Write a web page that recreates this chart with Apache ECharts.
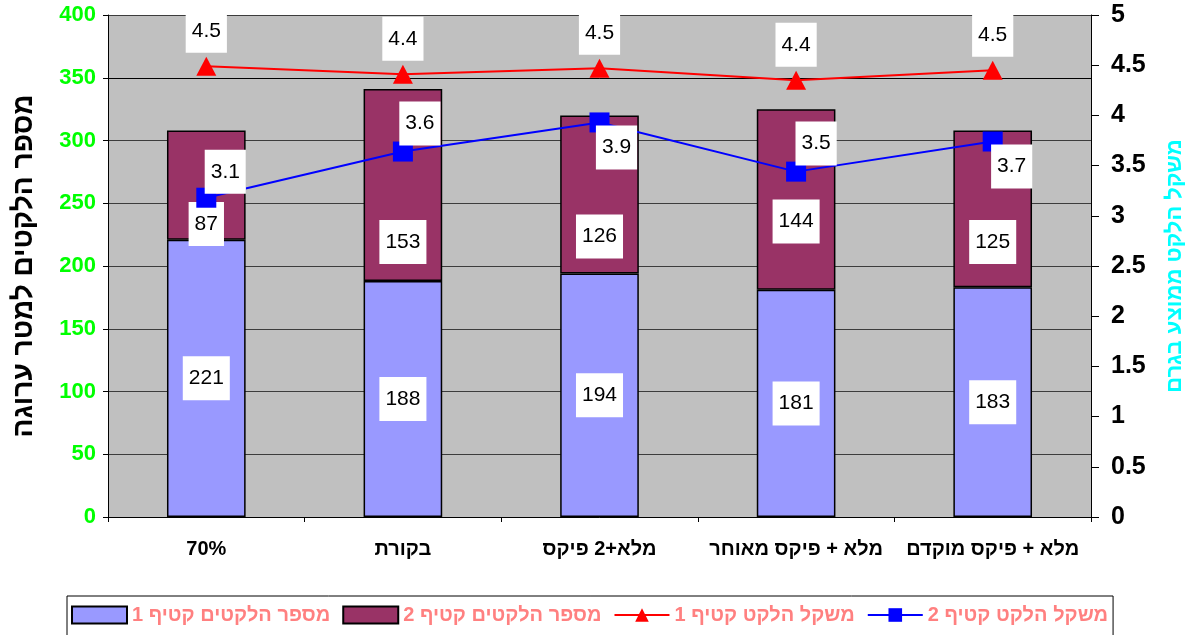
<!DOCTYPE html>
<html>
<head>
<meta charset="utf-8">
<script src="https://cdn.jsdelivr.net/npm/echarts@6/dist/echarts.min.js"></script>
<style>
html,body{margin:0;padding:0;background:#fff;}
#chart{width:1194px;height:635px;}
</style>
</head>
<body>
<div id="chart"></div>
<script>
var categories = ['70%', 'בקורת', 'מלא+2 פיקס', 'מלא + פיקס מאוחר', 'מלא + פיקס מוקדם'];
var seriesNames = ['מספר הלקטים קטיף 1', 'מספר הלקטים קטיף 2', 'משקל הלקט קטיף 1', 'משקל הלקט קטיף 2'];
var countHarvest1 = [221, 188, 194, 181, 183];
var countHarvest2 = [87, 153, 126, 144, 125];
var weightHarvest1 = [4.49, 4.41, 4.47, 4.35, 4.45];
var weightHarvest1Labels = ['4.5', '4.4', '4.5', '4.4', '4.5'];
var weightHarvest2 = [3.18, 3.64, 3.93, 3.44, 3.74];
var weightHarvest2Labels = ['3.1', '3.6', '3.9', '3.5', '3.7'];
var leftAxisTitle = 'מספר הלקטים למטר ערוגה';
var rightAxisTitle = 'משקל הלקט ממוצע בגרם';

var FONT = 'Arial, "Liberation Sans", "DejaVu Sans", sans-serif';
var boxLabel = {
  show: true, color: '#000', fontFamily: FONT, fontSize: 21,
  backgroundColor: '#fff', padding: [12, 6, 11, 6]
};

var c2Offsets = [[0, 39], [0, 57], [0, 42], [0, 22], [0, 33]];
var w2Offsets = [[19, -26], [17, -28], [17, 25], [20, -28], [19, 25]];

var chart = echarts.init(document.getElementById('chart'), null, {renderer: 'canvas'});
var option = {
  animation: false,
  backgroundColor: '#fff',
  grid: {left: 108, right: 101, top: 15, bottom: 118, show: true, backgroundColor: '#c0c0c0', borderWidth: 0},
  legend: {
    left: 67, top: 596, padding: [9, 5, 12, 4],
    borderColor: '#000', borderWidth: 1, backgroundColor: '#fff',
    itemWidth: 55, itemHeight: 17, itemGap: 12,
    textStyle: {color: '#ff8080', fontFamily: FONT, fontSize: 20, fontWeight: 'bold'},
    data: [
      {name: seriesNames[0], icon: 'rect'},
      {name: seriesNames[1], icon: 'rect'},
      {name: seriesNames[2]},
      {name: seriesNames[3]}
    ]
  },
  xAxis: {
    type: 'category', data: categories, boundaryGap: true,
    axisLine: {lineStyle: {color: '#000', width: 1}},
    axisTick: {show: true, length: 5, lineStyle: {color: '#000'}},
    axisLabel: {interval: 0, color: '#000', fontFamily: FONT, fontSize: 20, fontWeight: 'bold', margin: 22}
  },
  yAxis: [{
    type: 'value', min: 0, max: 400, interval: 50,
    name: leftAxisTitle, nameLocation: 'middle', nameRotate: 90, nameGap: 70,
    nameTextStyle: {color: '#000', fontFamily: FONT, fontSize: 28, fontWeight: 'bold'},
    axisLine: {show: true, lineStyle: {color: '#000'}},
    axisTick: {show: true, length: 5, lineStyle: {color: '#000'}},
    axisLabel: {color: '#00ff00', fontFamily: FONT, fontSize: 22, fontWeight: 'bold', margin: 12},
    splitLine: {show: true, lineStyle: {color: '#3c3c3c', width: 1}}
  }, {
    type: 'value', min: 0, max: 5, interval: 0.5, position: 'right',
    name: rightAxisTitle, nameLocation: 'middle', nameRotate: 90, nameGap: 73,
    nameTextStyle: {color: '#00ffff', fontFamily: FONT, fontSize: 22, fontWeight: 'bold'},
    axisLine: {show: true, lineStyle: {color: '#000'}},
    axisTick: {show: true, length: 8, lineStyle: {color: '#000'}},
    axisLabel: {color: '#000', fontFamily: FONT, fontSize: 25, fontWeight: 'bold', margin: 20},
    splitLine: {show: false}
  }],
  series: [{
    name: seriesNames[0], type: 'bar', stack: 'count', barWidth: '40%',
    itemStyle: {color: '#9999ff', borderColor: '#000', borderWidth: 1.5},
    label: Object.assign({}, boxLabel, {position: 'inside'}),
    data: countHarvest1,
    markLine: {silent: true, symbol: 'none', label: {show: false},
      lineStyle: {color: '#000', type: 'solid', width: 1}, data: [{yAxis: 350}]},
    z: 2
  }, {
    name: seriesNames[1], type: 'bar', stack: 'count', barWidth: '40%',
    itemStyle: {color: '#993366', borderColor: '#000', borderWidth: 1.5},
    label: Object.assign({}, boxLabel, {position: 'inside'}),
    data: countHarvest2.map(function (v, i) { return {value: v, label: {offset: c2Offsets[i]}}; }),
    z: 2
  }, {
    name: seriesNames[2], type: 'line', yAxisIndex: 1,
    symbol: 'triangle', symbolSize: [20, 19],
    lineStyle: {color: '#ff0000', width: 2}, itemStyle: {color: '#ff0000'},
    label: Object.assign({}, boxLabel, {position: 'top', distance: 4,
      formatter: function (p) { return weightHarvest1Labels[p.dataIndex]; }}),
    data: weightHarvest1, z: 5
  }, {
    name: seriesNames[3], type: 'line', yAxisIndex: 1,
    symbol: 'rect', symbolSize: 20,
    lineStyle: {color: '#0000ff', width: 2}, itemStyle: {color: '#0000ff'},
    label: Object.assign({}, boxLabel, {position: 'inside',
      formatter: function (p) { return weightHarvest2Labels[p.dataIndex]; }}),
    data: weightHarvest2.map(function (v, i) { return {value: v, label: {offset: w2Offsets[i]}}; }),
    z: 5
  }]
};
chart.setOption(option);
</script>
</body>
</html>
